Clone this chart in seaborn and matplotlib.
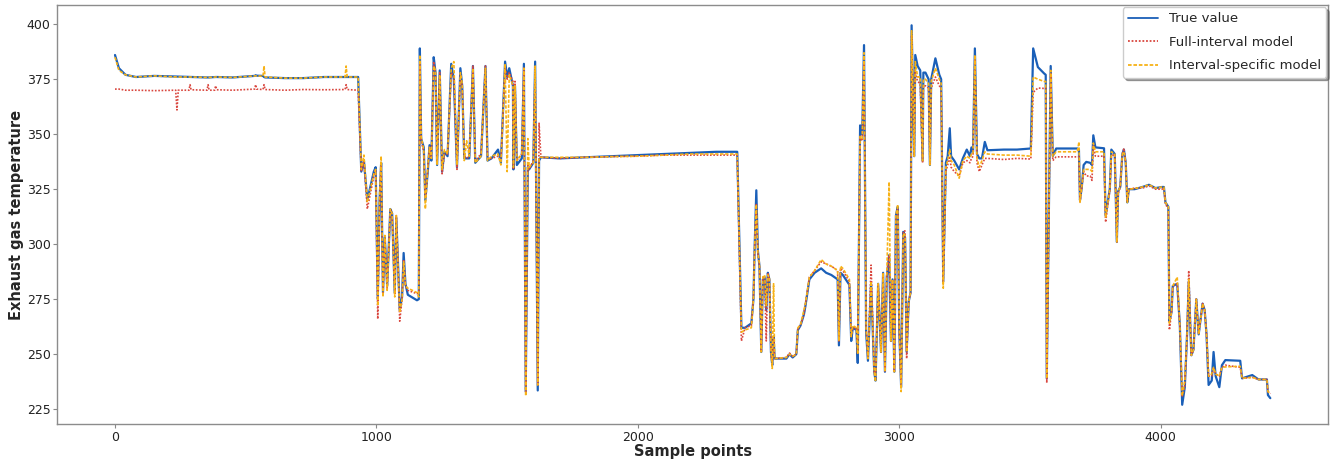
import numpy as np
import pandas as pd
import matplotlib
matplotlib.use("Agg")
import matplotlib.pyplot as plt
import seaborn as sns

# key sample points (one row per segment)
sample_idx = [
    0, 15, 40, 80, 150, 232, 237, 242, 283, 287, 291,
    352, 356, 360, 381, 385, 389, 450, 534, 538, 542, 566, 570, 574, 650,
    720, 800, 880, 884, 888, 930, 942, 952, 965, 990, 997, 1005,
    1012, 1018, 1025, 1032, 1041, 1053, 1060, 1070, 1076, 1083, 1089, 1098, 1104, 1111, 1120,
    1155, 1162, 1166, 1171, 1181, 1187, 1197, 1203, 1210, 1219, 1226, 1232, 1242, 1251, 1260, 1272,
    1286, 1296, 1308, 1321, 1328, 1336, 1345, 1355, 1369, 1378, 1400, 1417, 1425, 1440,
    1465, 1476, 1492, 1500, 1508, 1522, 1524, 1530, 1537, 1556, 1564, 1571, 1579, 1584, 1600, 1607, 1617, 1622, 1629,
    1700, 1800, 1900, 2000, 2100, 2200, 2300, 2380,
    2396, 2410, 2434, 2442, 2447, 2453, 2459, 2465, 2472, 2478, 2485, 2491,
    2497, 2503, 2509, 2514, 2519, 2523, 2568, 2580, 2592, 2606, 2612, 2622,
    2635, 2641, 2656, 2676, 2701, 2720, 2740, 2764, 2769, 2775, 2784, 2809, 2816, 2822,
    2836, 2841, 2850, 2858, 2865, 2873, 2880, 2892, 2904, 2909, 2919, 2930, 2938, 2945, 2952,
    2961, 2968, 2974, 2981, 2987, 2994, 3000, 3007, 3015, 3022, 3028, 3036, 3043,
    3047, 3051, 3057, 3061, 3070, 3080, 3089, 3092, 3100, 3112, 3117, 3122,
    3138, 3153, 3160, 3168, 3178, 3185, 3193, 3198, 3210, 3229, 3243,
    3258, 3270, 3276, 3282, 3289, 3297, 3306, 3316, 3327, 3337, 3400, 3450, 3503,
    3512, 3530, 3554, 3560, 3564, 3579, 3587, 3600, 3681, 3687, 3691, 3698, 3705,
    3715, 3730, 3737, 3742, 3750, 3783, 3789, 3801, 3805, 3811, 3824, 3832, 3837, 3845,
    3853, 3859, 3866, 3872, 3878, 3900, 3930, 3955, 3980, 4005, 4012, 4018, 4029,
    4033, 4041, 4046, 4063, 4073, 4082, 4092, 4101, 4107, 4117, 4125, 4136, 4145,
    4160, 4168, 4175, 4183, 4195, 4202, 4210, 4224, 4234, 4247, 4304, 4311, 4350, 4374, 4406, 4410, 4419,
]

true_value = [
    386, 380, 377, 376, 376.5, 376.2, 376.2, 376.2, 376, 376, 376,
    375.8, 375.8, 375.8, 376, 376, 376, 375.8, 376.5, 376.8, 376.6, 376.5, 376, 375.8, 375.5,
    375.5, 376, 376, 376, 376, 376, 333, 338, 320, 333, 335, 275,
    320, 337, 278, 303, 281, 316, 314, 278, 312, 290, 270, 276, 296, 282, 277,
    274.5, 275, 389, 348, 344, 320, 334, 345, 338, 385, 378, 336, 379, 333, 342, 340,
    382, 375, 335, 380, 372, 339, 339, 339, 381, 337, 340, 381, 338, 339,
    343, 337, 383, 376, 380, 372, 334, 372, 336, 339, 382, 233, 335, 334, 337, 383, 233.5, 338, 339.5,
    339, 339.5, 340, 340.5, 341, 341.5, 342, 342,
    262, 262, 264, 275, 300, 324.5, 297, 290, 251, 284, 285, 270,
    287, 284, 251, 245, 258, 248, 248, 250, 248.5, 250, 261, 263,
    268, 272, 284, 287, 289, 287, 286, 284, 254, 287, 286, 281.5, 256, 262,
    261, 246, 354, 350, 390.5, 260, 247, 282, 242, 238, 282, 251, 287, 242, 285,
    295, 256, 284, 242, 313, 317, 260, 235, 305.6, 303, 251, 274, 278,
    399.5, 376, 340, 386, 381, 379, 338, 378, 378, 375, 336, 375,
    384.5, 377, 375, 283, 337, 340, 352.7, 340, 338, 334, 339,
    343, 340, 344, 342, 389, 341, 339, 339, 346.5, 342.7, 343, 343, 343.5,
    389, 380.5, 377.6, 377, 239, 381, 340, 343.5, 343.5, 343, 320, 326, 336,
    337.4, 337, 336, 349.5, 344, 343.6, 313, 322, 325, 343, 341, 301, 324, 326,
    341, 343, 337, 319, 325, 325, 326, 327, 325.5, 326, 326, 319, 317,
    265, 269, 281, 282, 263, 227, 235, 260, 283, 249.5, 252, 275, 259,
    273, 270, 259, 236, 238, 251, 240, 235, 245, 247.3, 247, 239, 240.5, 238.5, 238.5, 231.4, 230,
]

full_interval = [
    370.5, 370.5, 370, 370, 369.8, 370, 361, 370, 370, 372.5, 370.2,
    370, 372.5, 370, 370, 372, 370.2, 370, 370.5, 372.5, 370.5, 370.3, 372.5, 370.3, 370,
    370.3, 370.2, 370.3, 372.5, 370.3, 370, 333, 338, 316, 331, 334, 266,
    318, 336, 277, 303, 280, 316, 313, 277, 313, 290, 265, 275, 293, 281, 279,
    277.5, 278, 383, 347, 342, 321, 335, 344, 339, 383, 377, 337, 378, 332, 341, 341,
    378, 376, 334, 377, 372, 340, 339, 340, 381, 338, 341, 381, 339, 339,
    340, 338, 381, 375, 378, 374, 334, 374, 338, 341, 380, 233, 336, 334, 338, 381, 236, 355, 339.5,
    339, 339.5, 339.8, 340, 340.5, 340.5, 340.5, 340.5,
    256, 262, 263, 276, 300, 318, 296, 290, 251, 285, 284, 256,
    287, 284, 251, 245, 258, 248, 248.5, 250.5, 249, 250, 262, 263,
    268, 273, 285, 288, 292, 291, 290, 288, 256, 289, 288, 283, 258, 262,
    262, 250, 349, 347, 385, 262, 248, 290.5, 242, 239, 282, 251, 287, 242, 286,
    295, 256, 284, 242, 313, 316, 260, 235, 306, 306, 248, 274, 278,
    395, 372, 340, 378, 374, 373, 337, 372, 372, 371, 336, 371,
    376, 372, 371, 283, 333, 336, 340, 335, 333, 331, 337,
    338, 337, 339, 340, 385, 337, 333, 336, 339, 339, 338.5, 339, 338.7,
    369, 371, 370.8, 371, 237, 378, 338, 339.7, 339.7, 339.7, 319, 326, 333,
    331, 331, 329, 345, 340, 340, 310, 321, 324, 340, 341, 301, 323, 326,
    341, 343.6, 337, 319, 325, 325.5, 325.5, 326.5, 325, 325, 325.5, 318, 316.5,
    261, 269, 281, 282, 263, 231, 235, 260, 288, 249.5, 252, 275, 259,
    273, 270, 259, 240, 240, 244, 241, 240, 244, 245, 244, 239, 239.5, 238.5, 238.5, 233, 232,
]

interval_specific = [
    385, 379, 377, 376, 376.5, 376, 376, 376, 376, 376, 376,
    375.8, 375.8, 375.8, 376, 376, 376, 375.8, 376.5, 376.5, 376.5, 376.3, 381, 376, 375.5,
    375.5, 376, 376, 381, 376, 376, 334, 340.5, 319, 332, 334, 272,
    322, 340, 276, 304, 279, 316, 314, 276, 313, 288, 269, 275, 292, 281, 280,
    278, 276, 386, 349, 343, 316, 336, 344, 339, 381, 379, 336, 377, 334, 343, 341,
    380, 383, 336, 378, 373, 338, 347, 340, 380, 337, 340, 380, 338, 340,
    341, 336, 382, 333, 377, 372, 335, 372, 338, 341, 380, 231, 348, 335, 337, 381, 236, 339, 339.5,
    339.5, 339.5, 339.8, 340, 340.5, 341, 341, 341,
    260, 261, 262, 275, 300, 318, 296, 291, 251, 285, 286, 272,
    286, 285, 252, 243.5, 282, 248, 248.5, 250, 249, 250, 262, 263.5,
    270, 273, 285, 288, 293, 291, 290, 288, 256, 290, 289, 284, 258, 263,
    262, 250, 349, 348, 387, 262, 248, 283, 242, 237.5, 282, 251, 287, 242, 286,
    328.3, 256, 284, 242, 313, 318, 262, 233, 305, 304, 251, 274, 278,
    397, 376, 340, 383, 376, 376, 338, 375, 375, 373, 336, 374,
    380, 375, 373, 280, 335, 338, 343, 338, 336, 330, 338,
    340, 339, 341, 341, 386, 339, 335, 338, 342, 341, 340.5, 340.5, 340,
    376, 375, 374, 374, 239, 379, 340, 342, 342, 346.5, 319, 326, 334,
    334, 334, 333, 346, 342, 342, 312, 322, 325, 342, 341, 301, 324, 326,
    341, 342, 337, 319, 325, 325.3, 326, 327, 325.5, 326, 326, 319, 317,
    264, 269, 281, 285, 263, 231, 238, 260, 284, 249.5, 252, 275, 259,
    273, 270, 259, 240, 241, 244, 241, 240, 244, 244.2, 244.5, 239, 239.5, 238.5, 238.5, 233, 232,
]

series_names = ["True value", "Full-interval model", "Interval-specific model"]
series_colors = ["#1a5fb8", "#d9463e", "#f7b217"]

df = pd.DataFrame({
    "sample": sample_idx,
    series_names[0]: true_value,
    series_names[1]: full_interval,
    series_names[2]: interval_specific,
})

sns.set_style("ticks")
plt.rcParams.update({"font.family": ["DejaVu Sans"], "font.size": 9})

fig = plt.figure(figsize=(13.31, 4.61), dpi=100)
ax = fig.add_axes([0.043, 0.080, 0.955, 0.909])

sns.lineplot(data=df, x="sample", y=series_names[0], ax=ax, color=series_colors[0],
             lw=1.6, label=series_names[0])
sns.lineplot(data=df, x="sample", y=series_names[1], ax=ax, color=series_colors[1],
             lw=1.2, linestyle=(0, (1, 1)), label=series_names[1])
sns.lineplot(data=df, x="sample", y=series_names[2], ax=ax, color=series_colors[2],
             lw=1.2, linestyle=(0, (2, 1)), label=series_names[2])

ax.set_xlim(-221, 4641)
ax.set_ylim(218.2, 408.7)
ax.set_xticks([0, 1000, 2000, 3000, 4000])
ax.set_yticks([225, 250, 275, 300, 325, 350, 375, 400])
ax.set_xlabel("Sample points", fontsize=10.5, fontweight="bold", labelpad=0)
ax.set_ylabel("Exhaust gas temperature", fontsize=10.5, fontweight="bold", labelpad=2)
ax.tick_params(labelsize=9, colors="#222222", length=3, color="#888888", pad=1.8)
for sp in ax.spines.values():
    sp.set_color("#8c8c8c")
    sp.set_linewidth(1.0)

leg = ax.legend(loc="upper right", fontsize=9.5, shadow=True, fancybox=True,
                borderaxespad=0.15, framealpha=1.0, labelspacing=0.8, handlelength=2.3)
leg.get_frame().set_edgecolor("#cccccc")
for line in leg.get_lines():
    line.set_linewidth(1.3)

fig.savefig("out.png", dpi=100)
